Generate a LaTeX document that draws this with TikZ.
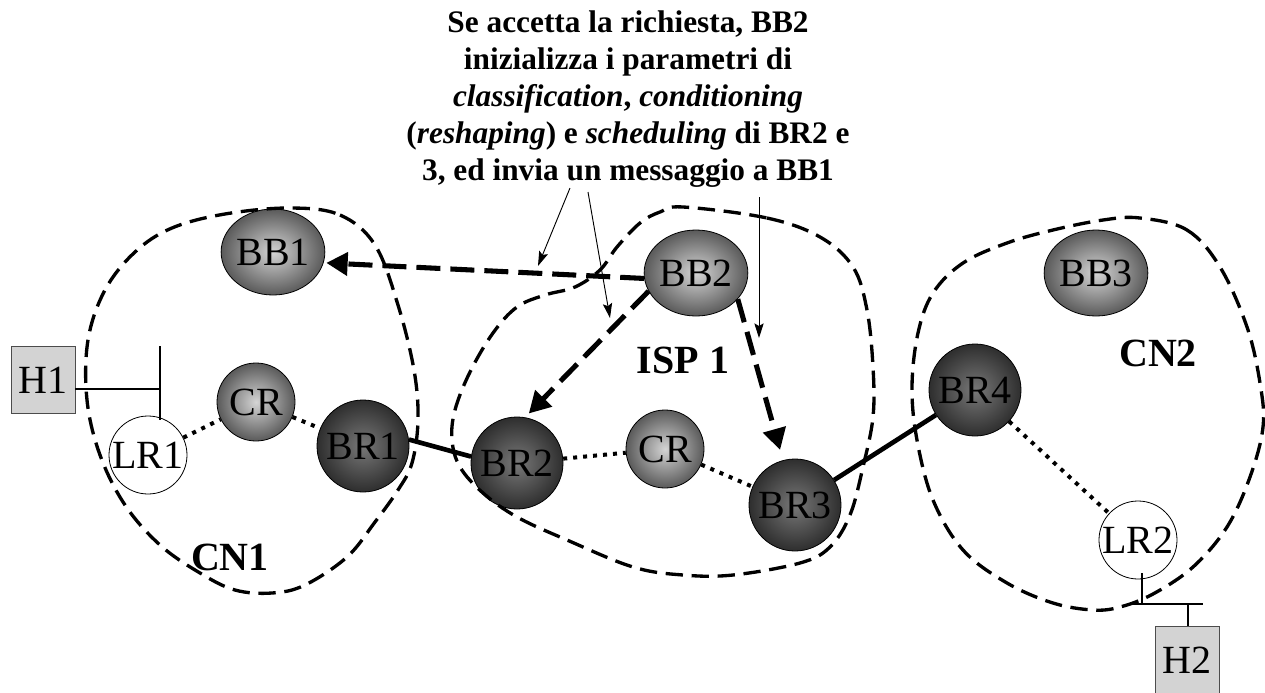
\documentclass[tikz,border=0pt]{standalone}
\usepackage{fontspec}
\setmainfont{Liberation Serif}
\usetikzlibrary{shapes.geometric,arrows.meta}
\definecolor{bbin}{HTML}{D4D4D4}
\definecolor{bbout}{HTML}{5A5A5A}
\definecolor{brin}{HTML}{787878}
\definecolor{brout}{HTML}{2E2E2E}
\definecolor{hostfill}{HTML}{D3D3D3}
\tikzset{
  nodetext/.style={font={\fontsize{30}{36}\selectfont}},
  bbnode/.style={ellipse, draw, line width=0.6pt, inner color=bbin, outer color=bbout,
     minimum width=70.5pt, minimum height=64.5pt, inner sep=0pt, nodetext},
  crnode/.style={circle, draw, line width=0.6pt, inner color=bbin, outer color=bbout,
     minimum size=58.5pt, inner sep=0pt, nodetext},
  brnode/.style={circle, draw, line width=0.6pt, inner color=brin, outer color=brout,
     minimum size=69pt, inner sep=0pt, nodetext},
  lrnode/.style={circle, draw, line width=0.6pt, fill=white,
     minimum size=58.5pt, inner sep=0pt, nodetext},
  hostnode/.style={rectangle, draw=black!70, line width=0.6pt, fill=hostfill,
     minimum width=48pt, minimum height=50pt, inner sep=0pt, nodetext},
  lbl/.style={font={\bfseries\fontsize{30}{36}\selectfont}, inner sep=0pt},
  region/.style={line width=2.5pt, dash pattern=on 13pt off 6.5pt},
  msg/.style={line width=3.8pt, dash pattern=on 18pt off 7.5pt,
     -{Triangle[length=16pt,width=17pt]}},
  callout/.style={line width=0.7pt, -{Stealth[length=11pt,width=7pt,inset=2pt]}},
  link/.style={line width=3.5pt},
  dotlink/.style={line width=3pt, dash pattern=on 3pt off 4.5pt},
  wire/.style={line width=1.2pt},
}
\begin{document}
\begin{tikzpicture}[x=0.75pt,y=-0.75pt]
\useasboundingbox (0,0) rectangle (1265,693);

% text
\node[anchor=north, inner sep=0pt, align=center,
      font={\bfseries\fontsize{23.5}{27.75}\selectfont}] (txt) at (628,10.5)
  {Se accetta la richiesta, BB2\\
   inizializza i parametri di\\
   \textit{classification}, \textit{conditioning}\\
   (\textit{reshaping}) e \textit{scheduling} di BR2 e\\
   3, ed invia un messaggio a BB1};

% nodes
\node[bbnode] (BB1) at (273,252) {BB1};
\node[bbnode] (BB2) at (696,273) {BB2};
\node[bbnode] (BB3) at (1096,273) {BB3};
\node[crnode] (CRa) at (256,402) {CR};
\node[crnode] (CRb) at (665,449) {CR};
\node[brnode] (BR1) at (363,446) {BR1};
\node[brnode] (BR2) at (517,463) {BR2};
\node[brnode] (BR3) at (795,505) {BR3};
\node[brnode] (BR4) at (975,390) {BR4};
\node[lrnode] (LR1) at (148,455) {LR1};
\node[lrnode] (LR2) at (1138,540) {LR2};
\node[hostnode] (H1) at (43,380) {H1};
\node[hostnode] (H2) at (1187,660) {H2};

\node[lbl] (cn1) at (230,557) {CN1};
\node[lbl] (isp) at (683,360) {ISP 1};
\node[lbl] (cn2) at (1158,353) {CN2};

% links
\draw[link] (BR1.8) -- (BR2.172);
\draw[link] (BR3) -- (BR4);
\draw[dotlink] (LR1) -- (CRa);
\draw[dotlink] (CRa) -- (BR1);
\draw[dotlink] (BR2) -- (CRb);
\draw[dotlink] (CRb) -- (BR3);
\draw[dotlink] (BR4) -- (LR2);

% host wiring
\coordinate (h1j) at (160,389);
\coordinate (h1top) at (160,346);
\coordinate (h1bot) at (160,420);
\draw[wire] (H1.east |- h1j) -- (h1j);
\draw[wire] (h1top) -- (h1bot);
\coordinate (h2a) at (1142,573);
\coordinate (h2b) at (1142,604);
\coordinate (h2l) at (1130,604);
\coordinate (h2r) at (1203,604);
\coordinate (h2c) at (1188,604);
\draw[wire, line width=1.8pt] (h2a) -- (h2b);
\draw[wire, line width=1.8pt] (h2l) -- (h2r);
\draw[wire, line width=1.8pt] (h2c) -- (H2.north -| h2c);

% messages
\draw[msg, shorten >=2pt] (BB2.186) -- (BB1.-12);
\draw[msg, shorten >=4pt] (BB2.201) -- (BR2.80);
\draw[msg, shorten >=8pt] (BB2.-32) -- (BR3.105);

% callouts
\coordinate (c1s) at (570,188); \coordinate (c1e) at (538,266);
\coordinate (c2s) at (588,192); \coordinate (c2e) at (610,318);
\coordinate (c3s) at (759,197); \coordinate (c3e) at (759,338);
\draw[callout] (c1s) -- (c1e);
\draw[callout] (c2s) -- (c2e);
\draw[callout] (c3s) -- (c3e);

% regions
\draw[region] plot[smooth cycle, tension=0.6] coordinates {
 (290,208) (340,215) (375,245) (398,305) (414,370) (418,420) (412,463)
 (398,490) (375,522) (347,557) (305,585) (272,593) (235,590) (200,573)
 (160,545) (125,505) (100,455) (87,400) (88,340) (105,290) (135,252)
 (172,228) (225,214)};
\draw[region] plot[smooth cycle, tension=0.6] coordinates {
 (683,207) (767,218) (820,237) (853,267) (867,310) (873,367) (873,417)
 (863,467) (850,515) (830,547) (800,563) (733,575) (683,575) (633,567)
 (567,540) (517,517) (483,493) (460,467) (452,440) (455,410) (470,372)
 (493,333) (517,307) (545,295) (575,287) (600,270) (617,247) (640,223)
 (660,212)};
\draw[region] plot[smooth cycle, tension=0.6] coordinates {
 (1140,218) (1187,230) (1220,267) (1247,327) (1260,383) (1263,427)
 (1250,477) (1227,527) (1193,567) (1153,594) (1120,607) (1093,610)
 (1053,603) (1007,583) (963,550) (933,500) (917,440) (912,387) (918,333)
 (933,293) (963,263) (1007,243) (1053,230) (1103,220)};
\end{tikzpicture}
\end{document}
